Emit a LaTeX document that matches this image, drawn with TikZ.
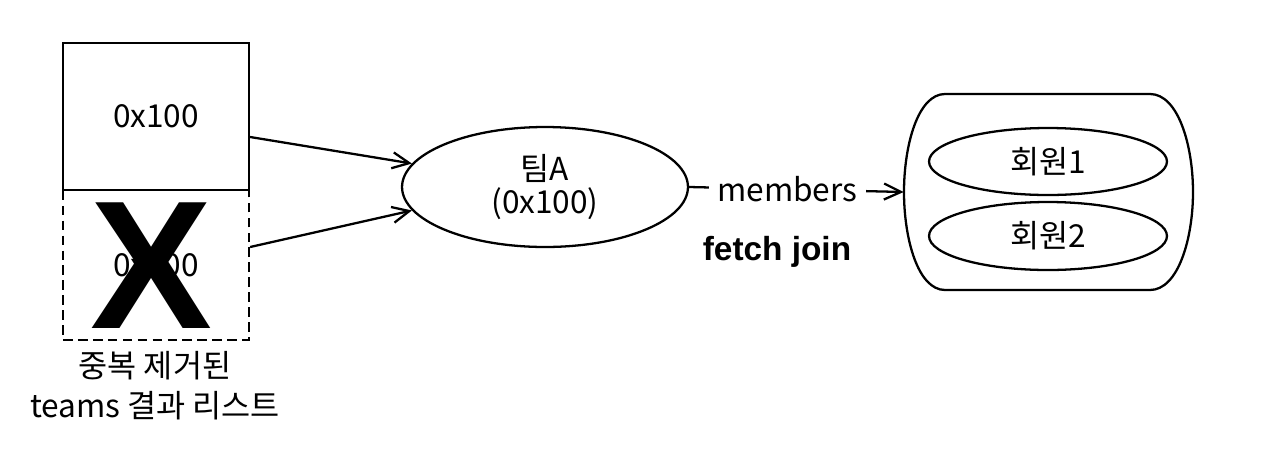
\documentclass[tikz,border=0pt]{standalone}
\usepackage{fontspec}
\setmainfont{Noto Sans CJK KR}
\newfontfamily\latinbold{Liberation Sans}
\usetikzlibrary{arrows.meta,positioning,shapes.geometric}
\tikzset{
  >={Straight Barb[length=3.4mm,width=3.2mm]},
  cell/.style={draw,line width=1.3pt,minimum width=3.72cm,minimum height=#1,inner sep=0pt,
    font=\fontsize{18}{21}\selectfont},
  cell/.default=2.94cm,
  obj/.style={ellipse,draw,line width=1.3pt,inner sep=0pt,align=center,
    font=\fontsize{18}{19}\selectfont},
  link/.style={->,line width=1.3pt},
  tag/.style={font=\fontsize{18}{22.7}\selectfont,align=center,inner sep=0pt},
}

\begin{document}
\begin{tikzpicture}[x=0.02cm,y=-0.02cm]
  \useasboundingbox (0,0) rectangle (1282,454);
  % result list
  \node[cell=3cm,dashed,dash pattern=on 5.5pt off 3pt] (dup) at (156,265) {0x100};
  \node[cell] (first) at (156,116.5) {0x100};
  \node[font=\latinbold\bfseries\fontsize{104}{104}\selectfont,inner sep=0pt] (cross) at (151,266) {X};
  \node[tag] (caption) at (155,386) {중복 제거된\\teams 결과 리스트};
  % team and members
  \node[obj,minimum width=5.72cm,minimum height=2.4cm] (team) at (545,187) {팀A\\(0x100)};
  \node[minimum width=5.78cm,minimum height=3.92cm,inner sep=0pt] (store) at (1048.5,192) {};
  \draw[line width=1.3pt] (945,94) -- (1150,94) .. controls (1178,94) and (1193,145) .. (1193,192)
    .. controls (1193,239) and (1178,290) .. (1150,290) -- (945,290)
    .. controls (918,290) and (904,239) .. (904,192) .. controls (904,145) and (918,94) .. (945,94) -- cycle;
  \node[obj,minimum width=4.76cm,minimum height=1.34cm] (m1) at (1048,161.5) {회원1};
  \node[obj,minimum width=4.76cm,minimum height=1.36cm] (m2) at (1048,236) {회원2};
  \node[font=\latinbold\bfseries\fontsize{19}{22}\selectfont] (fetch) at (777,252) {fetch join};
  % connectors
  \draw[link] ([yshift=-0.41cm]first.east) -- (team.170);
  \draw[link] ([yshift=0.36cm]dup.east) -- (team.190);
  \draw[link] (team.east) -- node[tag,pos=0.458,fill=white,inner xsep=4.8pt,inner ysep=2pt] (rel) {members} (store.west);
\end{tikzpicture}
\end{document}
